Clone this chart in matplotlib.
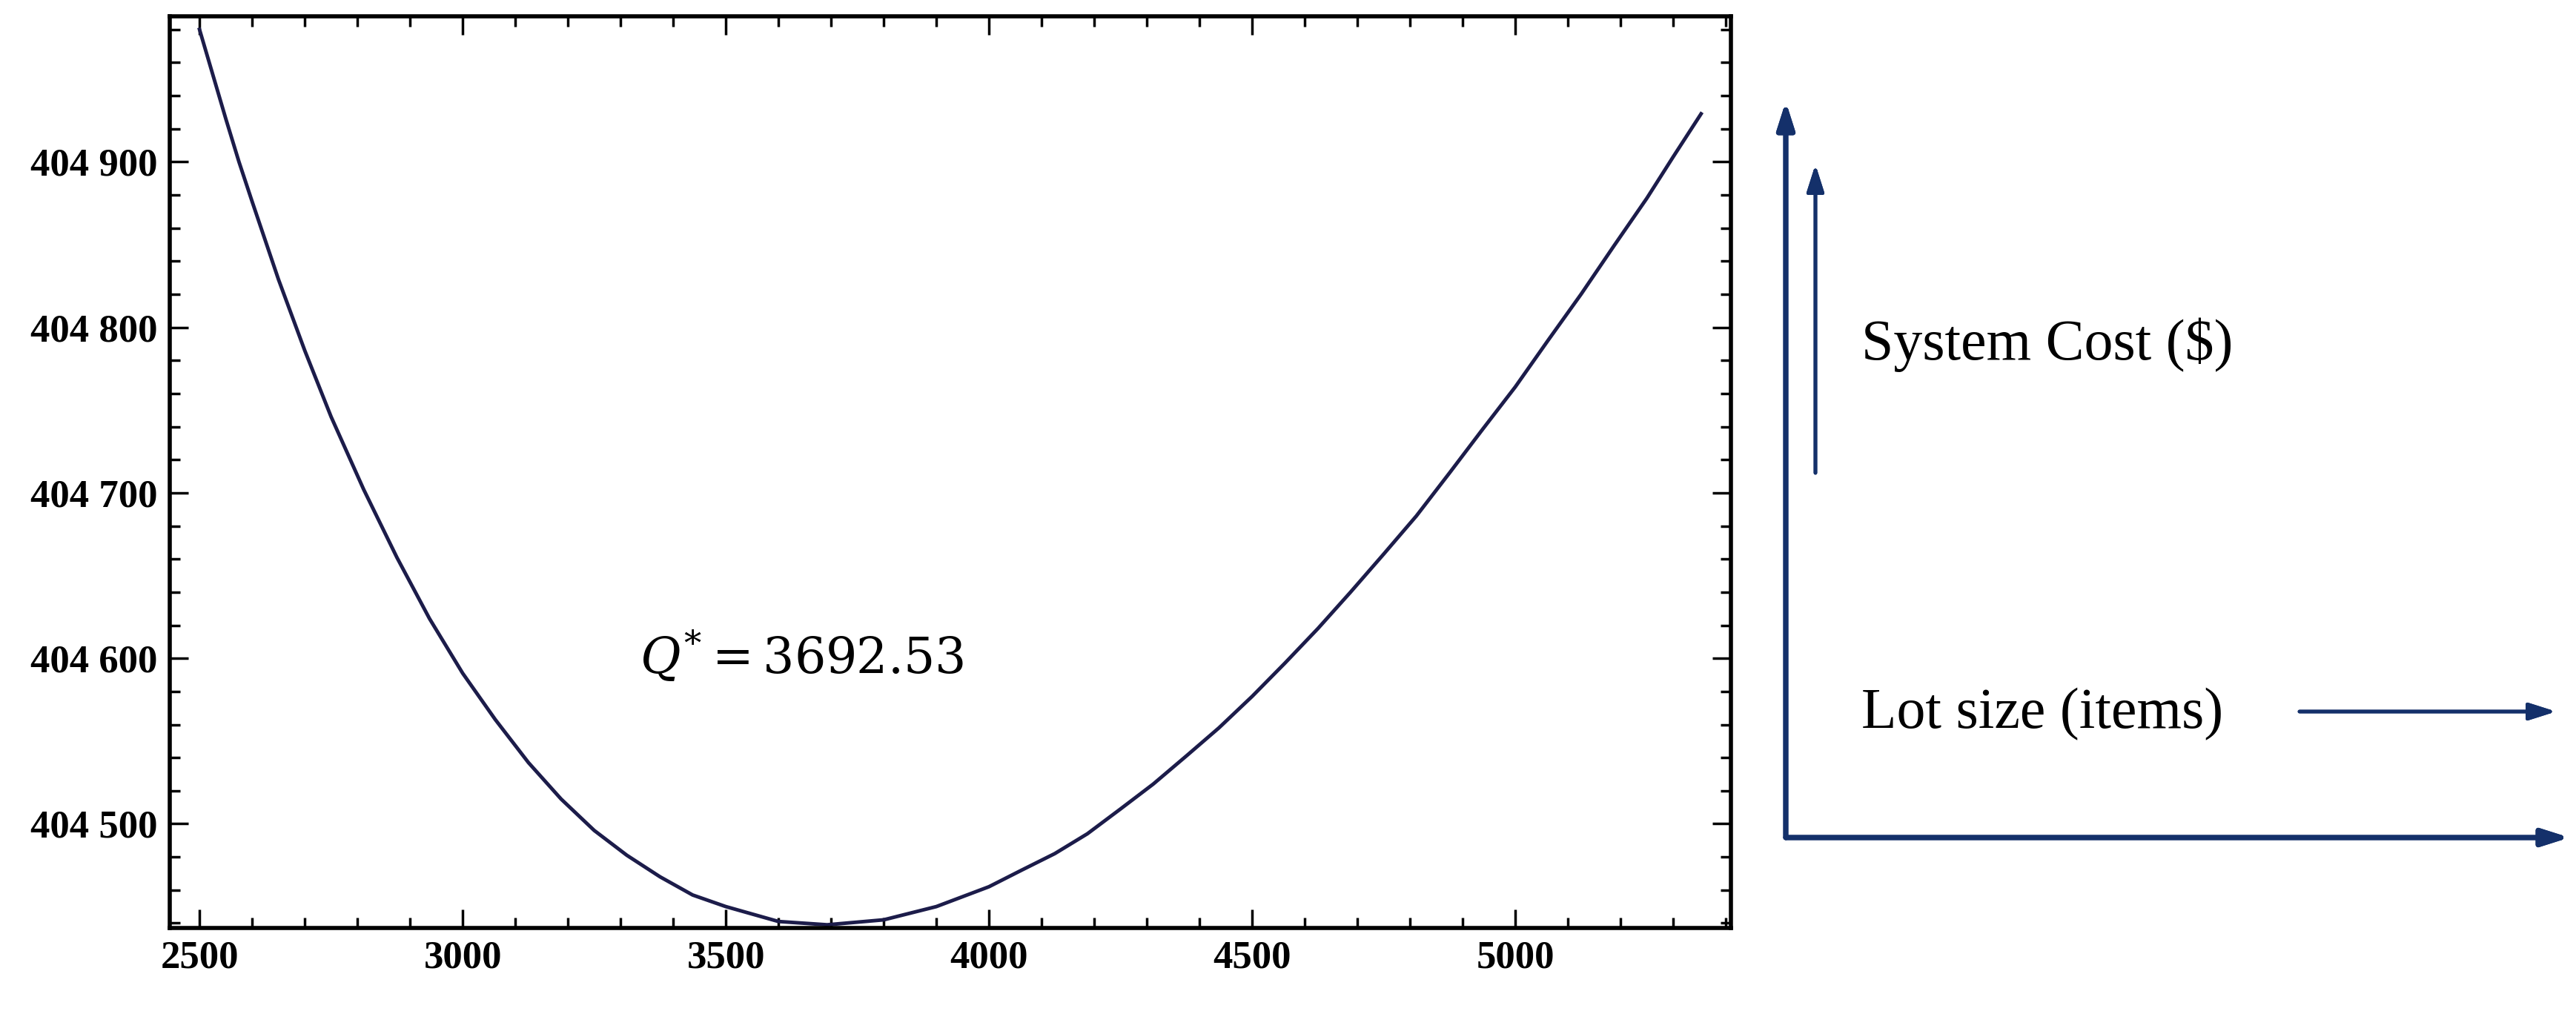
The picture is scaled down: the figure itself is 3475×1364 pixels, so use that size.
import numpy as np
import matplotlib.pyplot as plt
from matplotlib.ticker import MultipleLocator, FuncFormatter

# values (lot size vs system cost)
lot_size = [2500, 2525, 2550, 2575, 2600, 2650, 2700, 2750, 2812, 2875, 2937,
            3000, 3062, 3125, 3187, 3250, 3312, 3375, 3437, 3500, 3600, 3692.53,
            3800, 3900, 4000, 4062, 4125, 4187, 4250, 4312, 4375, 4437, 4500,
            4562, 4625, 4687, 4750, 4812, 4875, 4937, 5000, 5062, 5125, 5187,
            5250, 5300, 5353]
system_cost = [404980, 404953, 404926, 404900, 404876, 404829, 404786, 404746,
               404702, 404661, 404624, 404591, 404563, 404537, 404515, 404496,
               404481, 404468, 404457, 404450, 404441, 404439, 404442, 404450,
               404462, 404472, 404482, 404494, 404509, 404524, 404541, 404558,
               404577, 404597, 404618, 404640, 404663, 404686, 404712, 404738,
               404764, 404792, 404820, 404849, 404878, 404903, 404929]

plt.rcParams['font.family'] = ['Liberation Serif', 'DejaVu Serif']
plt.rcParams['mathtext.fontset'] = 'dejavuserif'

fig = plt.figure(figsize=(34.75, 13.64), dpi=100)
ax = fig.add_axes([0.066, 0.082, 0.606, 0.902])

ax.plot(lot_size, system_cost, color='#1c1c4a', lw=3.5)
ax.set_xlim(2444, 5410)
ax.set_ylim(404437, 404988)

ax.xaxis.set_major_locator(MultipleLocator(500))
ax.xaxis.set_minor_locator(MultipleLocator(100))
ax.yaxis.set_major_locator(MultipleLocator(100))
ax.yaxis.set_minor_locator(MultipleLocator(20))
ax.yaxis.set_major_formatter(FuncFormatter(lambda v, p: f'{int(v):,}'.replace(',', ' ')))
ax.tick_params(which='both', direction='in', top=True, right=True, width=2.5,
               labelsize=38, pad=12)
ax.tick_params(which='major', length=18)
ax.tick_params(which='minor', length=10)
for lab in ax.get_xticklabels() + ax.get_yticklabels():
    lab.set_fontweight('bold')
for s in ax.spines.values():
    s.set_linewidth(4)

ax.text(3337, 404601, r'$Q^{*}=3692.53$', fontsize=48, va='center', ha='left')

# schematic axes on the right
ac = '#14306a'
def arrow(x0, y0, x1, y1, lw=4):
    fig.add_artist(plt.annotate('', xy=(x1 / 3475, 1 - y1 / 1364), xytext=(x0 / 3475, 1 - y0 / 1364),
                                xycoords='figure fraction',
                                arrowprops=dict(arrowstyle='-|>,head_length=2.2,head_width=0.7',
                                                color=ac, lw=lw, shrinkA=0, shrinkB=0)))

arrow(2409, 1130, 2409, 137, lw=5)
arrow(2409, 1130, 3466, 1130, lw=5)
arrow(2449, 638, 2449, 222, lw=3.5)
arrow(3102, 960, 3448, 960, lw=3.5)

fig.text(2511 / 3475, 1 - 465 / 1364, 'System Cost ($)', fontsize=56, va='center', ha='left')
fig.text(2511 / 3475, 1 - 964 / 1364, 'Lot size (items)', fontsize=56, va='center', ha='left')

fig.savefig('out.png', dpi=100)
